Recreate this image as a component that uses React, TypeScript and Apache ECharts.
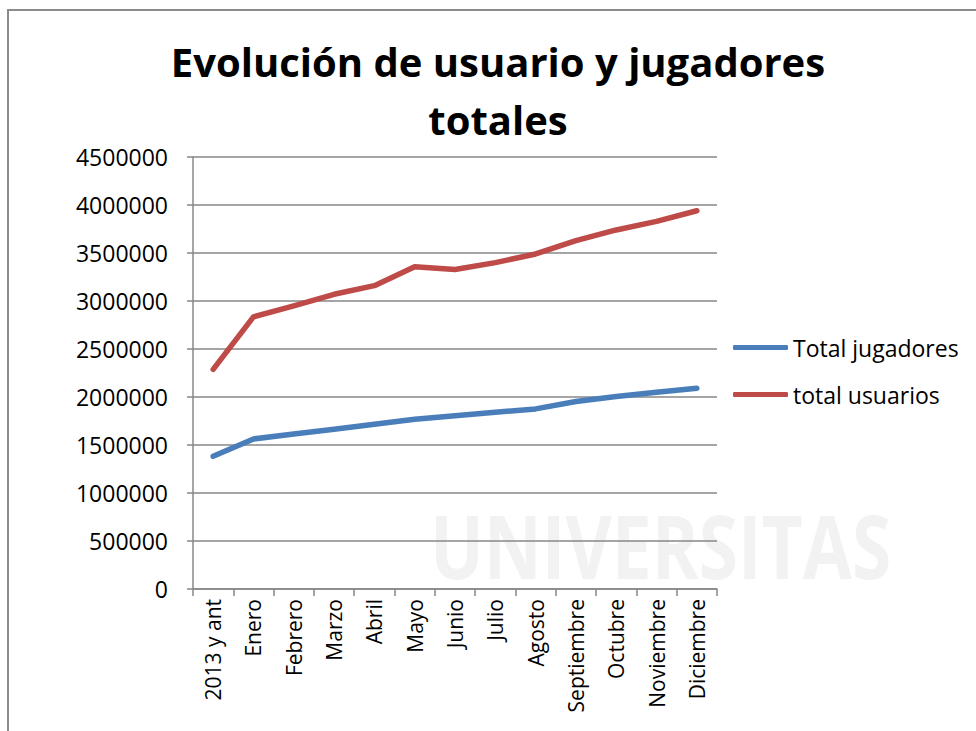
import React, { useEffect, useRef } from "react";
import * as echarts from "echarts";

const categories = [
  "2013 y ant", "Enero", "Febrero", "Marzo", "Abril", "Mayo", "Junio",
  "Julio", "Agosto", "Septiembre", "Octubre", "Noviembre", "Diciembre",
];
const totalJugadores = [
  1382000, 1563000, 1614000, 1664000, 1717000, 1768000, 1805000,
  1842000, 1876000, 1953000, 2005000, 2050000, 2090000,
];
const totalUsuarios = [
  2288000, 2835000, 2950000, 3070000, 3160000, 3357000, 3328000,
  3400000, 3490000, 3628000, 3740000, 3830000, 3940000,
];
const titleLines = ["Evolución de usuario y jugadores", "totales"];
const seriesNames = ["Total jugadores", "total usuarios"];

const FONT = "'Open Sans', 'Noto Sans', sans-serif";

export default function App() {
  const ref = useRef<HTMLDivElement>(null);
  useEffect(() => {
    if (!ref.current) return;
    const chart = echarts.init(ref.current, null, { renderer: "svg" });
    const grey = "#878787";
    chart.setOption({
      animation: false,
      backgroundColor: "#ffffff",
      textStyle: { fontFamily: FONT },
      graphic: [
        {
          type: "text",
          x: 430,
          y: 500,
          scaleX: 0.81,
          scaleY: 1,
          z: -10,
          silent: true,
          style: { text: "UNIVERSITAS", font: `bold 88px ${FONT}`, fill: "#f2f2f2" },
        },
        {
          type: "rect",
          z: 100,
          silent: true,
          shape: { x: 8, y: 10, width: 1000, height: 760 },
          style: { fill: "none", stroke: "#8c8c8c", lineWidth: 2 },
        },
        {
          type: "text",
          x: 498,
          y: 61,
          style: {
            text: titleLines[0],
            font: `bold 40px ${FONT}`,
            fill: "#000000",
            align: "center",
            verticalAlign: "middle",
          },
        },
        {
          type: "text",
          x: 498,
          y: 119,
          style: {
            text: titleLines[1],
            font: `bold 40px ${FONT}`,
            fill: "#000000",
            align: "center",
            verticalAlign: "middle",
          },
        },
      ],
      grid: { left: 193, right: 259, top: 157, bottom: 142 },
      legend: {
        orient: "vertical",
        left: 733,
        top: 336,
        padding: 0,
        itemWidth: 55,
        itemHeight: 5,
        itemGap: 24,
        icon: "roundRect",
        data: seriesNames,
        textStyle: { fontSize: 23, color: "#000", fontFamily: FONT },
      },
      xAxis: {
        type: "category",
        data: categories,
        boundaryGap: true,
        axisLine: { lineStyle: { color: grey, width: 1.5 } },
        axisTick: { show: true, length: 7, interval: 0, lineStyle: { color: grey, width: 1.5 } },
        axisLabel: { rotate: 90, interval: 0, fontSize: 21, color: "#000", margin: 10, fontFamily: FONT },
      },
      yAxis: {
        type: "value",
        min: 0,
        max: 4500000,
        interval: 500000,
        axisLine: { show: true, lineStyle: { color: grey, width: 1.5 } },
        axisTick: { show: true, length: 6, lineStyle: { color: grey, width: 1.5 } },
        splitLine: { show: true, lineStyle: { color: grey, width: 1.5 } },
        axisLabel: {
          fontSize: 23,
          color: "#000",
          margin: 25,
          fontFamily: FONT,
          formatter: (v: number) => String(v),
        },
      },
      series: [
        {
          name: seriesNames[0],
          type: "line",
          data: totalJugadores,
          symbol: "none",
          lineStyle: { color: "#4a7ebb", width: 5.5, cap: "round", join: "round" },
          itemStyle: { color: "#4a7ebb" },
        },
        {
          name: seriesNames[1],
          type: "line",
          data: totalUsuarios,
          symbol: "none",
          lineStyle: { color: "#be4b48", width: 5.5, cap: "round", join: "round" },
          itemStyle: { color: "#be4b48" },
        },
      ],
    });
    return () => chart.dispose();
  }, []);
  return <div ref={ref} style={{ width: 976, height: 731, position: "absolute", left: 0, top: 0 }} />;
}
